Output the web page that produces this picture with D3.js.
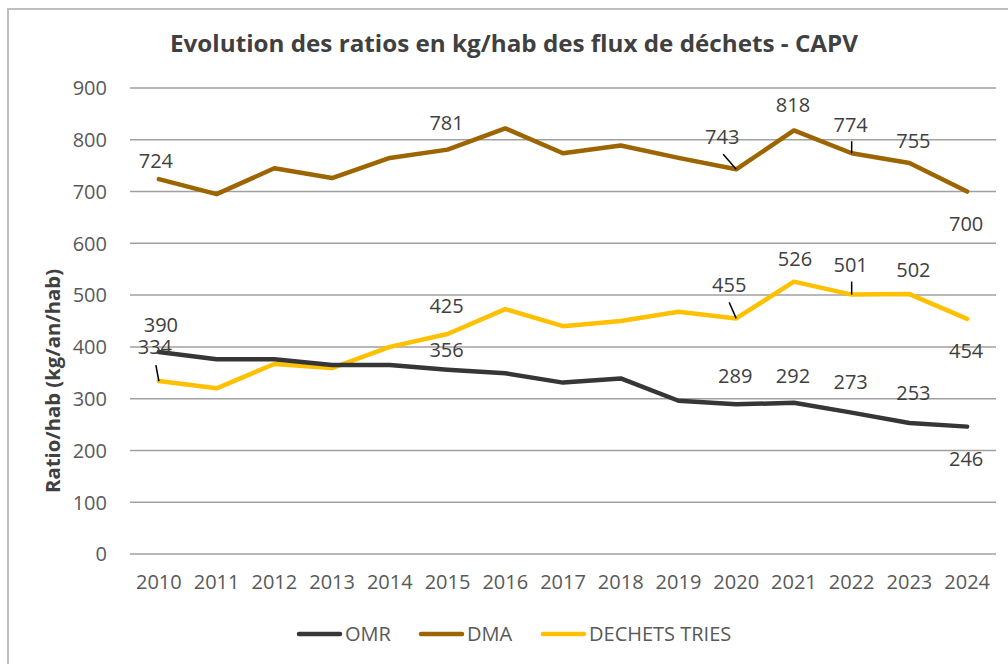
<!DOCTYPE html>
<html>
<head>
<meta charset="utf-8">
<script src="https://cdn.jsdelivr.net/npm/d3@7/dist/d3.min.js"></script>
<style>
  html, body { margin: 0; padding: 0; background: #fff; }
  svg { display: block; }
  text { font-family: "Open Sans", "Noto Sans", sans-serif; }
</style>
</head>
<body>
<svg id="chart" width="1008" height="664"></svg>
<script>
// ---- Data ----
const years = ["2010","2011","2012","2013","2014","2015","2016","2017","2018","2019","2020","2021","2022","2023","2024"];
const omr   = [390, 376, 376, 365, 365, 356, 349, 331, 339, 296, 289, 292, 273, 253, 246];
const dma   = [724, 695, 745, 726, 765, 781, 822, 774, 789, 765, 743, 818, 774, 755, 700];
const tries = [334, 320, 367, 359, 400, 425, 473, 440, 450, 468, 455, 526, 501, 502, 454];
const yTicks = [0, 100, 200, 300, 400, 500, 600, 700, 800, 900];
const labelledYears = ["2010", "2015", "2020", "2021", "2022", "2023", "2024"];
const seriesNames = ["OMR", "DMA", "DECHETS TRIES"];

// ---- Styling / label placement (not data) ----
const colors = { "OMR": "#363636", "DMA": "#9c6500", "DECHETS TRIES": "#ffc000" };
// label offsets [dx, dy] relative to the point, per labelled year
const labelOffsets = {
  "OMR":           [[2,-20],[-1,-13],[-1,-21],[-1,-20],[-1,-24],[4,-23],[-1,39]],
  "DMA":           [[-3,-11],[-1,-20],[-14,-25],[-1,-18],[-1,-21],[4,-15],[-1,39]],
  "DECHETS TRIES": [[-4,-27],[-1,-21],[-7,-26],[1,-16],[-1,-23],[4,-17],[-1,39]]
};
// leader lines [dx, dy] end offset from the point
const leaders = {
  "DMA": { "2020": [-13,-15], "2022": [0,-12] },
  "DECHETS TRIES": { "2010": [-3,-16], "2020": [-7,-16], "2022": [0,-13] },
  "OMR": {}
};

const svg = d3.select("#chart");
const W = 1008, H = 664;
const plot = { left: 130, right: 996, top: 88, bottom: 554 };

// border
svg.append("rect").attr("x", 8).attr("y", 9).attr("width", W + 10).attr("height", H + 10)
  .attr("fill", "#fff").attr("stroke", "#bfbfbf").attr("stroke-width", 2);

const x = d3.scaleBand().domain(years).range([plot.left, plot.right]).padding(0);
const y = d3.scaleLinear().domain([0, 900]).range([plot.bottom, plot.top]);
const cx = d => x(d) + x.bandwidth() / 2;

// gridlines
svg.append("g").selectAll("line").data(yTicks).join("line")
  .attr("x1", plot.left).attr("x2", plot.right)
  .attr("y1", d => y(d)).attr("y2", d => y(d))
  .attr("stroke", "#a0a0a0").attr("stroke-width", 1.5);

// y axis labels
const yAxis = d3.axisLeft(y).tickValues(yTicks).tickSize(0).tickPadding(0);
const gy = svg.append("g").attr("transform", `translate(107,0)`).call(yAxis);
gy.select(".domain").remove();
gy.selectAll("text").attr("font-size", 20).attr("fill", "#595959")
  .attr("font-family", "'Open Sans', sans-serif").attr("dy", "0.34em");

// x axis labels
const xAxis = d3.axisBottom(x).tickSize(0).tickPadding(0);
const gx = svg.append("g").attr("transform", `translate(0,${plot.bottom})`).call(xAxis);
gx.select(".domain").remove();
gx.selectAll("text").attr("font-size", 20).attr("fill", "#595959")
  .attr("font-family", "'Open Sans', sans-serif").attr("dy", null).attr("y", 35);

// title
const title = svg.append("text").attr("x", 514).attr("y", 52).attr("text-anchor", "middle")
  .attr("font-weight", "bold").attr("font-size", 23).attr("fill", "#404040")
  .text("Evolution des ratios en kg/hab des flux de déchets - CAPV");
title.attr("textLength", 688).attr("lengthAdjust", "spacingAndGlyphs");

// y axis title
svg.append("text").attr("transform", "translate(60,381) rotate(-90)").attr("text-anchor", "middle")
  .attr("font-weight", "bold").attr("font-size", 19).attr("fill", "#404040")
  .attr("textLength", 224).attr("lengthAdjust", "spacingAndGlyphs")
  .text("Ratio/hab (kg/an/hab)");

// lines
const seriesData = { "OMR": omr, "DMA": dma, "DECHETS TRIES": tries };
const line = d3.line().x((d, i) => cx(years[i])).y(d => y(d));
const drawOrder = ["DMA", "DECHETS TRIES", "OMR"];
drawOrder.forEach(name => {
  svg.append("path").datum(seriesData[name]).attr("d", line)
    .attr("fill", "none").attr("stroke", colors[name]).attr("stroke-width", 4.5)
    .attr("stroke-linejoin", "round").attr("stroke-linecap", "round");
});

// leader lines
seriesNames.forEach(name => {
  Object.entries(leaders[name]).forEach(([yr, off]) => {
    const i = years.indexOf(yr);
    const px = cx(yr), py = y(seriesData[name][i]);
    svg.append("line").attr("x1", px).attr("y1", py).attr("x2", px + off[0]).attr("y2", py + off[1])
      .attr("stroke", "#000").attr("stroke-width", 1.5);
  });
});

// data labels
seriesNames.forEach(name => {
  labelledYears.forEach((yr, k) => {
    const i = years.indexOf(yr);
    const off = labelOffsets[name][k];
    svg.append("text").attr("x", cx(yr) + off[0]).attr("y", y(seriesData[name][i]) + off[1])
      .attr("text-anchor", "middle").attr("font-size", 20).attr("fill", "#404040")
      .text(seriesData[name][i]);
  });
});

// legend
const legendItems = [
  { name: "OMR", x: 297 },
  { name: "DMA", x: 419 },
  { name: "DECHETS TRIES", x: 541 }
];
const lg = svg.append("g");
legendItems.forEach(it => {
  lg.append("line").attr("x1", it.x + 2).attr("x2", it.x + 43).attr("y1", 634).attr("y2", 634)
    .attr("stroke", colors[it.name]).attr("stroke-width", 4.5).attr("stroke-linecap", "round");
  lg.append("text").attr("x", it.x + 48).attr("y", 641).attr("font-size", 20).attr("fill", "#595959")
    .text(it.name);
});
</script>
</body>
</html>
